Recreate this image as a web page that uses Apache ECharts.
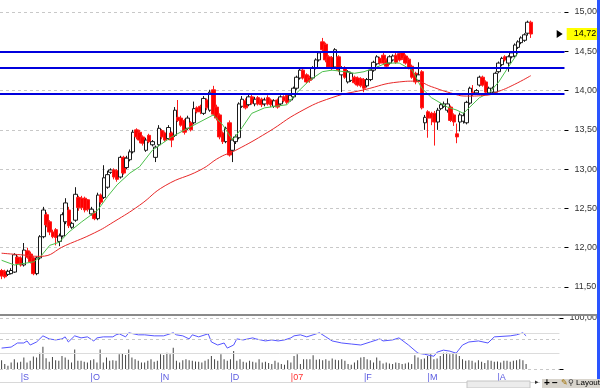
<!DOCTYPE html>
<html><head><meta charset="utf-8">
<script src="https://cdn.jsdelivr.net/npm/echarts@6/dist/echarts.min.js"></script>
<style>html,body{margin:0;padding:0;background:#fff}#c{width:600px;height:388px}</style>
</head><body><div id="c"></div>
<script>
// ---- data ----
const slotCount = 176; // trading-day slots on the time axis (incl. empty right margin)
const monthLabels = ['S','O','N','D','07','F','M','A'];
const monthStartIdx = [6,28,50,72,91,114,134,156];
const priceTicks = [11.5,12,12.5,13,13.5,14,14.5,15];
const supportLevels = [14.50, 14.285, 13.96];
const lastPrice = 14.72;

const open = [11.71,11.70,11.66,11.67,11.69,11.88,11.87,11.78,11.96,11.92,11.87,11.67,11.87,12.14,12.42,12.33,12.20,12.23,12.08,12.15,
12.33,12.48,12.26,12.35,12.64,12.63,12.63,12.61,12.43,12.44,12.37,12.67,12.64,12.77,12.96,12.99,12.98,12.90,13.15,13.02,
13.12,13.22,13.50,13.47,13.41,13.24,13.43,13.31,13.15,13.31,13.49,13.46,13.39,13.46,13.43,13.66,13.65,13.62,13.52,13.59,
13.59,13.78,13.80,13.71,13.88,13.75,14.01,13.79,13.69,13.46,13.35,13.59,13.24,13.35,13.40,13.80,13.87,13.82,13.92,13.83,
13.91,13.89,13.83,13.91,13.88,13.80,13.88,13.83,13.92,13.94,13.88,13.92,14.03,14.16,14.26,14.20,14.17,14.16,14.29,14.39,
14.62,14.59,14.43,14.42,14.30,14.43,14.20,14.29,14.11,14.13,14.17,14.16,14.15,14.14,14.06,14.14,14.26,14.34,14.41,14.45,
14.39,14.35,14.39,14.45,14.47,14.48,14.44,14.40,14.31,14.22,14.13,14.24,13.59,13.73,13.71,13.71,13.60,13.77,13.80,13.75,
13.79,13.69,13.45,13.60,13.61,13.59,13.84,13.98,13.97,14.07,14.17,14.11,13.97,13.98,13.98,14.24,14.33,14.43,14.35,14.43,
14.44,14.55,14.61,14.64,14.73,14.87];
const close = [11.64,11.63,11.70,11.71,11.91,11.80,11.78,11.97,11.88,11.82,11.67,11.87,12.14,12.48,12.29,12.20,12.14,12.13,12.15,12.42,
12.57,12.28,12.31,12.68,12.51,12.51,12.48,12.49,12.49,12.37,12.67,12.58,12.89,12.93,12.99,12.90,12.87,13.15,12.95,13.14,
13.22,13.47,13.41,13.37,13.33,13.37,13.35,13.35,13.28,13.52,13.41,13.37,13.53,13.37,13.75,13.62,13.56,13.47,13.65,13.50,
13.77,13.73,13.73,13.90,13.78,13.98,13.70,13.65,13.41,13.35,13.52,13.18,13.37,13.41,13.83,13.89,13.78,13.92,13.84,13.89,
13.83,13.82,13.88,13.83,13.82,13.87,13.79,13.92,13.87,13.85,13.94,14.03,14.17,14.26,14.16,14.11,14.13,14.29,14.39,14.48,
14.52,14.39,14.30,14.29,14.52,14.26,14.29,14.17,14.24,14.22,14.10,14.07,14.06,14.03,14.14,14.26,14.36,14.43,14.35,14.35,
14.31,14.43,14.44,14.36,14.39,14.41,14.35,14.29,14.17,14.11,14.20,13.78,13.66,13.65,13.65,13.60,13.75,13.82,13.83,13.83,
13.62,13.60,13.41,13.69,13.68,13.85,14.03,13.96,14.00,14.17,14.07,13.98,14.03,14.03,14.22,14.35,14.41,14.39,14.43,14.48,
14.58,14.62,14.67,14.71,14.87,14.72];
const high = [11.73,11.72,11.72,11.74,11.93,11.90,11.89,12.06,12.00,11.95,11.89,11.89,12.16,12.52,12.45,12.35,12.23,12.25,12.18,12.45,
12.63,12.52,12.33,12.77,12.66,12.66,12.65,12.62,12.52,12.47,12.70,12.69,13.05,12.98,13.01,13.01,13.00,13.17,13.17,13.17,
13.25,13.50,13.52,13.50,13.43,13.40,13.45,13.37,13.30,13.56,13.51,13.48,13.56,13.48,13.79,13.88,13.68,13.64,13.68,13.61,
13.86,13.80,13.82,13.93,13.90,14.01,14.06,13.82,13.71,13.48,13.54,13.62,13.39,13.44,13.85,13.93,13.90,13.95,13.95,13.92,
13.93,13.91,13.91,13.94,13.90,13.89,13.90,13.94,13.94,13.96,13.96,14.05,14.19,14.28,14.28,14.22,14.19,14.31,14.41,14.50,
14.67,14.61,14.45,14.44,14.54,14.45,14.31,14.31,14.26,14.24,14.19,14.18,14.17,14.16,14.16,14.28,14.38,14.45,14.43,14.48,
14.41,14.45,14.46,14.48,14.50,14.50,14.46,14.42,14.33,14.24,14.36,14.26,13.69,13.75,13.73,13.74,13.78,13.84,13.86,13.90,
13.81,13.71,13.58,13.72,13.72,13.87,14.05,14.07,14.02,14.19,14.19,14.13,14.05,14.05,14.24,14.37,14.43,14.45,14.45,14.50,
14.60,14.64,14.69,14.73,14.89,14.89];
const low = [11.60,11.61,11.64,11.66,11.68,11.78,11.76,11.76,11.86,11.80,11.65,11.65,11.85,12.12,12.26,12.16,12.12,12.03,12.02,12.13,
12.30,12.25,12.24,12.33,12.47,12.48,12.45,12.46,12.41,12.35,12.35,12.55,12.62,12.75,12.94,12.87,12.84,12.88,12.93,13.00,
13.10,13.20,13.38,13.33,13.30,13.22,13.33,13.29,13.09,13.29,13.38,13.35,13.37,13.28,13.41,13.60,13.54,13.44,13.50,13.48,
13.57,13.71,13.70,13.69,13.75,13.73,13.68,13.62,13.38,13.32,13.33,13.16,13.09,13.32,13.38,13.78,13.76,13.80,13.82,13.80,
13.81,13.79,13.80,13.81,13.79,13.78,13.77,13.81,13.85,13.83,13.86,13.90,14.01,14.14,14.14,14.09,14.10,14.14,14.27,14.37,
14.50,14.36,14.28,14.26,14.28,14.24,13.98,14.15,14.09,14.11,14.08,14.05,14.04,13.98,14.04,14.12,14.24,14.32,14.33,14.33,
14.29,14.33,14.37,14.34,14.37,14.39,14.33,14.27,14.15,14.08,14.11,13.76,13.50,13.40,13.56,13.30,13.50,13.75,13.78,13.72,
13.60,13.55,13.33,13.48,13.58,13.57,13.82,13.93,13.95,14.05,14.05,13.96,13.95,13.96,13.96,14.22,14.31,14.37,14.24,14.41,
14.42,14.53,14.59,14.62,14.70,14.67];

// moving averages: [slot, value]
const maFast = [[0,11.84],[4,11.78],[10,11.82],[12,11.88],[15,12.03],[18,12.07],[21,12.20],[25,12.33],[28,12.42],[30,12.48],
[33,12.65],[36,12.80],[40,12.95],[43,13.03],[47,13.24],[53,13.41],[59,13.54],[66,13.69],[69,13.56],[72,13.37],[75,13.53],
[78,13.71],[82,13.78],[89,13.82],[92,13.97],[96,14.13],[100,14.24],[103,14.26],[107,14.24],[110,14.22],[113,14.24],[117,14.30],
[120,14.35],[124,14.35],[128,14.26],[131,14.03],[134,13.91],[139,13.79],[142,13.75],[144,13.71],[146,13.79],[149,13.91],
[152,13.97],[155,14.11],[158,14.30],[161,14.48]];
const maSlow = [[0,11.93],[6,11.91],[12,11.89],[20,12.03],[29,12.19],[35,12.33],[43,12.54],[51,12.79],[62,12.99],[68,13.15],
[73,13.24],[83,13.47],[93,13.73],[103,13.91],[113,14.01],[124,14.11],[129,14.12],[134,14.05],[140,13.97],[145,13.93],
[151,13.94],[155,13.99],[160,14.08],[165,14.19]];

// oscillator (0-100): [slot, value]
const osc = [[0,41],[3,43],[4,47],[5,51],[7,51],[8,55],[9,47],[11,53],[13,65],[15,59],[17,57],[19,59],[20,63],[21,53],[23,65],
[25,61],[27,63],[29,55],[30,61],[32,63],[35,63],[36,67],[37,69],[39,63],[40,71],[43,67],[45,67],[48,65],[51,65],[52,67],[54,71],
[55,67],[57,65],[59,59],[60,67],[62,63],[65,69],[66,53],[68,47],[70,51],[71,41],[73,47],[74,59],[76,57],[79,61],[80,59],[83,55],
[85,57],[87,55],[89,57],[91,61],[92,65],[94,67],[96,63],[98,67],[100,71],[102,63],[104,55],[107,51],[110,49],[113,47],[116,53],
[119,59],[120,55],[123,57],[125,61],[128,47],[131,31],[133,29],[136,25],[137,33],[139,37],[141,35],[143,31],[145,47],[147,53],
[150,55],[153,51],[155,63],[160,65],[162,67],[164,71],[165,65]];
const oscLevels = [70, 59, 30];

const volume = [27,15,10,20,30,20,22,35,20,25,38,35,50,68,33,22,37,27,25,40,35,28,20,60,25,25,22,20,27,30,
20,60,20,35,25,27,25,45,47,43,60,35,30,25,20,20,25,30,22,25,45,43,50,45,65,25,20,27,30,27,
25,23,22,20,25,30,40,30,25,45,30,25,30,55,25,30,22,20,25,22,20,30,20,22,18,15,25,20,15,13,27,20,
40,45,15,30,30,30,42,28,30,27,30,25,32,28,27,30,25,15,13,20,27,35,37,30,27,20,35,25,17,20,17,15,
20,18,15,17,20,15,42,35,30,32,40,45,30,32,40,50,50,45,47,45,40,30,25,27,25,20,27,22,18,27,25,22,
23,20,25,25,22,25,27,30,27,15];

// ---- build ----
const categories = Array.from({length: slotCount}, (_, i) => String(i));
const ohlc = open.map((o, i) => [o, close[i], low[i], high[i]]);
const fmt = v => v.toFixed(2).replace('.', ',');
const FONT = 'Liberation Sans';

const chart = echarts.init(document.getElementById('c'), null, {renderer: 'canvas'});
chart.setOption({
  animation: false,
  backgroundColor: '#ffffff',
  textStyle: {fontFamily: FONT},
  grid: [
    {left: 0, right: 28, top: 12, height: 275},
    {left: 0, right: 28, top: 318, height: 51}
  ],
  xAxis: [
    {type: 'category', gridIndex: 0, data: categories, boundaryGap: true,
     axisLine: {show: false}, axisTick: {show: false}, axisLabel: {show: false}, splitLine: {show: false}},
    {type: 'category', gridIndex: 1, data: categories, boundaryGap: true,
     axisLine: {show: false}, axisTick: {show: false}, splitLine: {show: false},
     axisLabel: {show: true, margin: 4, align: 'left', fontSize: 9, fontFamily: FONT,
       interval: (idx) => monthStartIdx.indexOf(idx) >= 0,
       formatter: (val, idx) => {
         const k = monthStartIdx.indexOf(idx);
         if (k < 0) return '';
         const t = monthLabels[k];
         return (t === '07' ? '{r||' : '{b||') + t + '}';
       },
       rich: {b: {color: '#5a5ae0', fontSize: 9, fontFamily: FONT}, r: {color: '#ff3030', fontSize: 9, fontFamily: FONT}}}}
  ],
  yAxis: [
    {type: 'value', gridIndex: 0, position: 'right', min: priceTicks[0], max: priceTicks[priceTicks.length-1], interval: 0.5,
     axisLine: {show: false}, axisTick: {show: true, length: 4, lineStyle: {color: '#000'}},
     axisLabel: {margin: 10, fontSize: 9, color: '#333', fontFamily: FONT, formatter: fmt},
     splitLine: {show: true, lineStyle: {color: '#c8c8c8', type: [3, 3], width: 1}}},
    {type: 'value', gridIndex: 1, position: 'right', min: 0, max: 100, interval: 100,
     axisLine: {show: false}, axisTick: {show: true, length: 4, lineStyle: {color: '#000'}},
     axisLabel: {margin: 10, fontSize: 9, color: '#333', fontFamily: FONT, formatter: v => v === 100 ? '100,00' : ''},
     splitLine: {show: true, lineStyle: {color: '#c8c8c8', type: [3, 3], width: 1}}},
    {type: 'value', gridIndex: 1, min: 0, max: 156, show: false}
  ],
  series: [
    {type: 'candlestick', xAxisIndex: 0, yAxisIndex: 0, data: ohlc, barWidth: 4,
     itemStyle: {color: '#ffffff', color0: '#ff0000', borderColor: '#1a1a1a', borderColor0: '#ff1a1a', borderWidth: 1},
     markLine: {silent: true, symbol: 'none', label: {show: false},
       lineStyle: {color: '#0000dd', width: 2, type: 'solid'},
       data: supportLevels.map(v => ({yAxis: v}))},
     markPoint: {silent: true, symbol: 'path://M0,0L6,4L0,8Z', symbolSize: [6, 8],
       itemStyle: {color: '#000'},
       label: {show: true, position: 'right', distance: 4, formatter: fmt(lastPrice), color: '#000',
         fontSize: 9, fontFamily: FONT, backgroundColor: '#ffff00', padding: [2, 4, 1, 7]},
       data: [{coord: [174, lastPrice]}]}},
    {type: 'line', xAxisIndex: 0, yAxisIndex: 0, data: maFast, symbol: 'none', smooth: false,
     lineStyle: {color: '#4cc04c', width: 1}, z: 3},
    {type: 'line', xAxisIndex: 0, yAxisIndex: 0, data: maSlow, symbol: 'none', smooth: true,
     lineStyle: {color: '#e82828', width: 1}, z: 3},
    {type: 'bar', xAxisIndex: 1, yAxisIndex: 2, data: volume, barWidth: 1, itemStyle: {color: '#444'}},
    {type: 'line', xAxisIndex: 1, yAxisIndex: 1, data: osc, symbol: 'none',
     lineStyle: {color: '#5555ff', width: 1}, z: 4,
     markLine: {silent: true, symbol: 'none', label: {show: false},
       data: oscLevels.map((v, i) => ({yAxis: v, lineStyle: {color: i === 1 ? '#c8c8c8' : '#dcdcdc', width: 1, type: i === 1 ? [3, 3] : 'solid'}}))}}
  ],
  graphic: [
    {type: 'line', shape: {x1: 0, y1: 315, x2: 598, y2: 315}, style: {stroke: '#8a8a8a', lineWidth: 2}, z: 10},
    {type: 'rect', shape: {x: 597, y: 0, width: 3, height: 380}, style: {fill: '#2a55ff'}, z: 10},
    {type: 'line', shape: {x1: 0, y1: 382.5, x2: 540, y2: 382.5}, style: {stroke: '#d8d8d8', lineWidth: 1}, z: 10},
    {type: 'rect', shape: {x: 467, y: 381, width: 63, height: 7}, style: {fill: '#ececec', stroke: '#c4c4c4', lineWidth: 1}, z: 10},
    {type: 'text', left: 535, top: 379, style: {text: '▸', fontSize: 7, fill: '#333'}, z: 10},
    {type: 'rect', shape: {x: 542, y: 379, width: 58, height: 9}, style: {fill: '#d8d4cc'}, z: 10},
    {type: 'text', left: 544, top: 378, style: {text: '+', fontSize: 10, fontWeight: 'bold', fill: '#000', fontFamily: FONT}, z: 11},
    {type: 'text', left: 552, top: 378, style: {text: '−', fontSize: 10, fontWeight: 'bold', fill: '#000', fontFamily: FONT}, z: 11},
    {type: 'text', left: 561, top: 379, style: {text: '✎', fontSize: 8, fill: '#a07000'}, z: 11},
    {type: 'text', left: 568, top: 379, style: {text: '⚲', fontSize: 8, fill: '#333'}, z: 11},
    {type: 'text', left: 576, top: 379, style: {text: 'Layout', fontSize: 8, fill: '#000', fontFamily: FONT}, z: 11}
  ]
});
</script>
</body></html>
